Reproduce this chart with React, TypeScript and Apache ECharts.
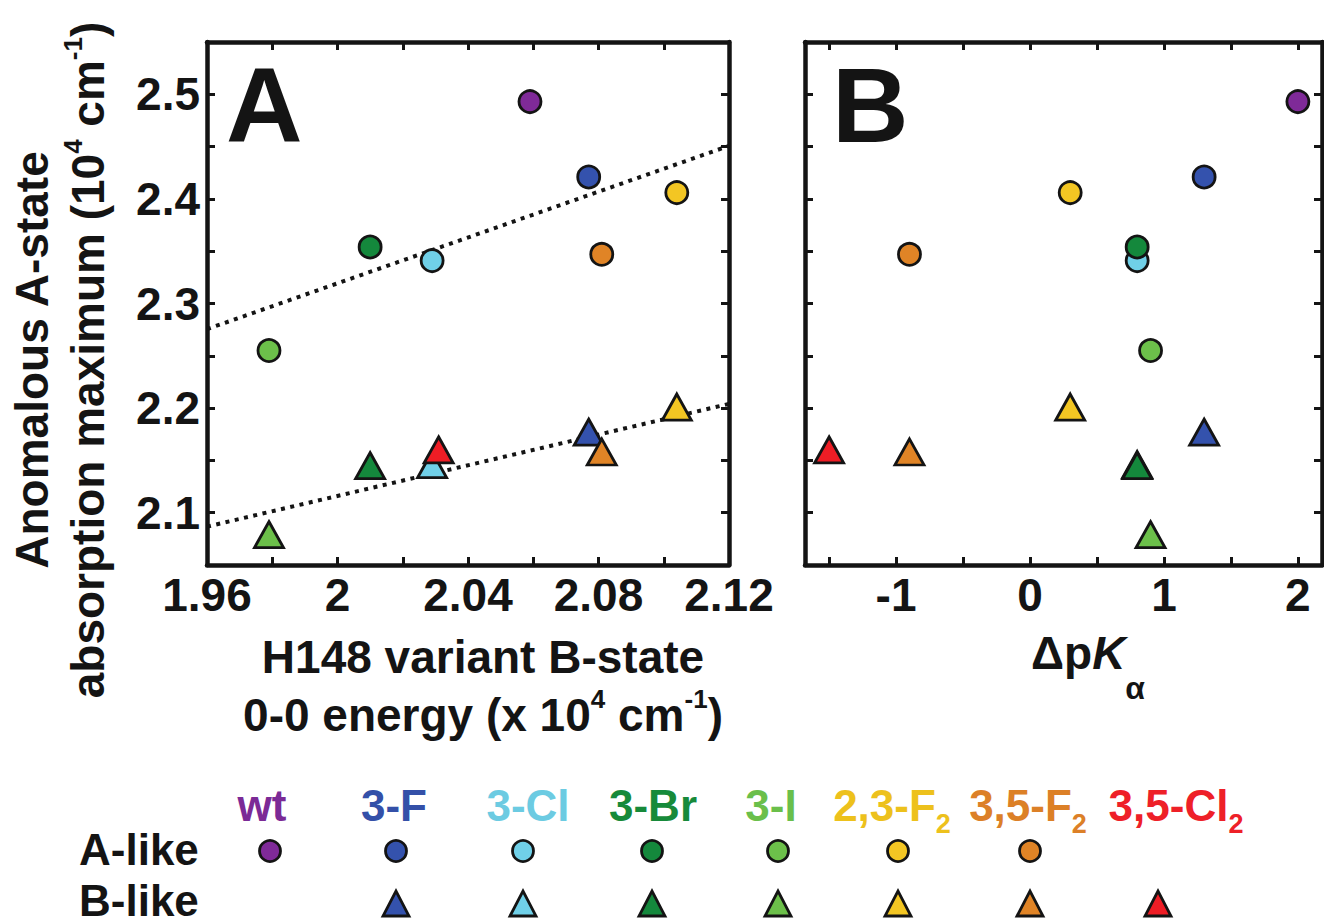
import React, { useEffect, useRef } from "react";
import * as echarts from "echarts";

// ---------------- data ----------------
const variants = ["wt", "3-F", "3-Cl", "3-Br", "3-I", "2,3-F2", "3,5-F2", "3,5-Cl2"];
const variantLabels = [
  "{n|wt}",
  "{n|3-F}",
  "{n|3-Cl}",
  "{n|3-Br}",
  "{n|3-I}",
  "{n|2,3-F}{s|2}",
  "{n|3,5-F}{s|2}",
  "{n|3,5-Cl}{s|2}",
];
const markerColors = ["#7f2a98", "#3452ad", "#70d0e8", "#14883c", "#6cc04a", "#f3c623", "#e08426", "#ee1d25"];
const labelColors = ["#7b2a96", "#3450a8", "#6ccbe2", "#178a3a", "#6abf4b", "#edc11c", "#dc8027", "#ee2028"];

// H148 variant B-state 0-0 energy (x 10^4 cm^-1)
const bStateEnergy = [2.059, 2.077, 2.029, 2.01, 1.979, 2.104, 2.081, 2.031];
// Delta pKa
const deltaPKa = [2.0, 1.3, 0.8, 0.8, 0.9, 0.3, -0.9, -1.5];
// anomalous A-state absorption maximum (10^4 cm^-1)
const aLikeMax = [2.493, 2.421, 2.341, 2.354, 2.255, 2.406, 2.347, null];
const bLikeMax = [null, 2.177, 2.146, 2.145, 2.079, 2.201, 2.158, 2.16];

// linear fits (panel A)
const fitALike = [
  [1.96, 2.2755],
  [2.12, 2.4507],
];
const fitBLike = [
  [1.96, 2.0867],
  [2.12, 2.204],
];

// axes
const yRange = [2.05, 2.55];
const yTicks = [2.1, 2.15, 2.2, 2.25, 2.3, 2.35, 2.4, 2.45, 2.5];
const yLabels = [2.1, 2.2, 2.3, 2.4, 2.5];
const xRangeA = [1.96, 2.12];
const xTicksA = [1.98, 2.0, 2.02, 2.04, 2.06, 2.08, 2.1];
const xLabelsA = [1.96, 2.0, 2.04, 2.08, 2.12];
const xRangeB = [-1.68, 2.18];
const xTicksB = [-1.5, -1, -0.5, 0, 0.5, 1, 1.5, 2];
const xLabelsB = [-1, 0, 1, 2];

// ---------------- styling ----------------
const FONT = "'Liberation Sans', Arial, Helvetica, sans-serif";
const INK = "#141414";
const LEGEND_COLS = [270, 396, 523, 652, 778, 898, 1030, 1158];
const LEGEND_LABEL_X = [262, 394, 528, 653, 771, 892, 1028, 1176];

function axisBase(min: number, max: number, ticks: number[], labels: number[] | null, fmt: (v: number) => string) {
  return {
    type: "value",
    min,
    max,
    splitLine: { show: false },
    axisLine: { show: true, onZero: false, lineStyle: { color: INK, width: 4.5 } },
    axisTick: { show: true, inside: true, length: 8, customValues: ticks, lineStyle: { color: INK, width: 3 } },
    axisLabel: labels
      ? {
          show: true,
          customValues: labels,
          formatter: (v: number) => fmt(v),
          fontSize: 46,
          fontWeight: "bold",
          fontFamily: FONT,
          color: INK,
          margin: 7,
        }
      : { show: false },
  };
}

const fmtY = (v: number) => v.toFixed(1);
const fmtXA = (v: number) => String(Math.round(v * 100) / 100);
const fmtXB = (v: number) => String(Math.round(v));

function scatterData(xs: number[], ys: (number | null)[]) {
  const out: any[] = [];
  ys.forEach((y, i) => {
    if (y == null) return;
    out.push({ name: variants[i], value: [xs[i], y], itemStyle: { color: markerColors[i] } });
  });
  return out;
}

const markStyle = { borderColor: INK, borderWidth: 2.8, opacity: 1 };
const CIRCLE_SIZE = 22;
const TRIANGLE_SIZE = [29, 26];

export default function App() {
  const ref = useRef<HTMLDivElement>(null);
  useEffect(() => {
    if (!ref.current) return;
    const chart = echarts.init(ref.current, undefined, { renderer: "svg" });

    const gridA = { left: 207, top: 42, width: 522, height: 523, outerBoundsMode: "none" };
    const gridB = { left: 805, top: 42, width: 517, height: 523, outerBoundsMode: "none" };

    const xAxis: any[] = [
      { ...axisBase(xRangeA[0], xRangeA[1], xTicksA, xLabelsA, fmtXA), gridIndex: 0, position: "bottom" },
      { ...axisBase(xRangeA[0], xRangeA[1], xTicksA, null, fmtXA), gridIndex: 0, position: "top" },
      { ...axisBase(xRangeB[0], xRangeB[1], xTicksB, xLabelsB, fmtXB), gridIndex: 1, position: "bottom" },
      { ...axisBase(xRangeB[0], xRangeB[1], xTicksB, null, fmtXB), gridIndex: 1, position: "top" },
    ];
    const yAxis: any[] = [
      { ...axisBase(yRange[0], yRange[1], yTicks, yLabels, fmtY), gridIndex: 0, position: "left" },
      { ...axisBase(yRange[0], yRange[1], yTicks, null, fmtY), gridIndex: 0, position: "right" },
      { ...axisBase(yRange[0], yRange[1], yTicks, null, fmtY), gridIndex: 1, position: "left" },
      { ...axisBase(yRange[0], yRange[1], yTicks, null, fmtY), gridIndex: 1, position: "right" },
    ];

    const fitLine = (data: number[][]) => ({
      type: "line",
      xAxisIndex: 0,
      yAxisIndex: 0,
      data,
      symbol: "none",
      silent: true,
      z: 1,
      lineStyle: { color: INK, width: 4, type: [4, 5.5] },
    });

    const scatter = (name: string, xi: number, xs: number[], ys: (number | null)[], tri: boolean) => ({
      type: "scatter",
      name,
      xAxisIndex: xi,
      yAxisIndex: xi,
      symbol: tri ? "triangle" : "circle",
      symbolSize: tri ? TRIANGLE_SIZE : CIRCLE_SIZE,
      z: 3,
      itemStyle: markStyle,
      emphasis: { disabled: true },
      data: scatterData(xs, ys),
    });

    const series: any[] = [
      fitLine(fitALike),
      fitLine(fitBLike),
      scatter("A-like (A)", 0, bStateEnergy, aLikeMax, false),
      scatter("B-like (A)", 0, bStateEnergy, bLikeMax, true),
      scatter("A-like (B)", 2, deltaPKa, aLikeMax, false),
      scatter("B-like (B)", 2, deltaPKa, bLikeMax, true),
    ];

    const tok = (size: number, extra: any = {}) => ({
      fontSize: size,
      fontWeight: "bold",
      fontFamily: FONT,
      fill: INK,
      ...extra,
    });

    const graphic: any[] = [
      // panel letters
      {
        type: "text",
        x: 226,
        y: 105,
        style: { text: "A", fontSize: 106, fontWeight: "bold", fontFamily: FONT, fill: INK, align: "left", verticalAlign: "middle" },
      },
      {
        type: "text",
        x: 832,
        y: 105,
        style: { text: "B", fontSize: 106, fontWeight: "bold", fontFamily: FONT, fill: INK, align: "left", verticalAlign: "middle" },
      },
      // y-axis title
      {
        type: "text",
        x: 60,
        y: 360,
        rotation: Math.PI / 2,
        style: {
          text: "{t|Anomalous A-state}\n{t|absorption maximum (10}{p|4}{t| cm}{p|-1}{t|)}",
          align: "center",
          verticalAlign: "middle",
          rich: {
            t: tok(46, { lineHeight: 56 }),
            p: tok(26, { lineHeight: 38, verticalAlign: "top" }),
          },
        },
      },
      // x-axis title A
      {
        type: "text",
        x: 483,
        y: 686,
        style: {
          text: "{t|H148 variant B-state}\n{t|0-0 energy (x 10}{p|4}{t| cm}{p|-1}{t|)}",
          align: "center",
          verticalAlign: "middle",
          rich: {
            t: tok(46, { lineHeight: 58 }),
            p: tok(26, { lineHeight: 40, verticalAlign: "top" }),
          },
        },
      },
      // x-axis title B
      {
        type: "text",
        x: 1088,
        y: 653,
        style: {
          text: "{t|\u0394p}{k|K}{s|\u03b1}",
          align: "center",
          verticalAlign: "middle",
          rich: {
            t: tok(46, { lineHeight: 102 }),
            k: tok(46, { lineHeight: 102, fontStyle: "italic" }),
            s: tok(32, { lineHeight: 32, verticalAlign: "bottom" }),
          },
        },
      },
      // legend row titles
      {
        type: "text",
        x: 79,
        y: 849,
        style: { text: "A-like", fontSize: 44, fontWeight: "bold", fontFamily: FONT, fill: INK, align: "left", verticalAlign: "middle" },
      },
      {
        type: "text",
        x: 79,
        y: 900,
        style: { text: "B-like", fontSize: 44, fontWeight: "bold", fontFamily: FONT, fill: INK, align: "left", verticalAlign: "middle" },
      },
    ];

    variants.forEach((v, i) => {
      graphic.push({
        type: "text",
        x: LEGEND_LABEL_X[i],
        y: 805,
        style: {
          text: variantLabels[i],
          align: "center",
          verticalAlign: "middle",
          rich: {
            n: tok(44, { fill: labelColors[i], lineHeight: 64 }),
            s: tok(27, { fill: labelColors[i], lineHeight: 27, verticalAlign: "bottom" }),
          },
        },
      });
      const cx = LEGEND_COLS[i];
      if (aLikeMax[i] != null) {
        graphic.push({
          type: "circle",
          shape: { cx, cy: 851, r: 10.5 },
          style: { fill: markerColors[i], stroke: INK, lineWidth: 2.8 },
        });
      }
      if (bLikeMax[i] != null) {
        graphic.push({
          type: "polygon",
          shape: {
            points: [
              [cx - 13, 916],
              [cx + 13, 916],
              [cx, 891],
            ],
          },
          style: { fill: markerColors[i], stroke: INK, lineWidth: 2.8 },
        });
      }
    });

    chart.setOption({
      animation: false,
      backgroundColor: "#ffffff",
      grid: [gridA, gridB],
      xAxis,
      yAxis,
      series,
      graphic,
    });
    return () => chart.dispose();
  }, []);

  return (
    <div
      ref={ref}
      style={{ position: "fixed", left: 0, top: 0, width: 1324, height: 923, background: "#fff" }}
    />
  );
}
